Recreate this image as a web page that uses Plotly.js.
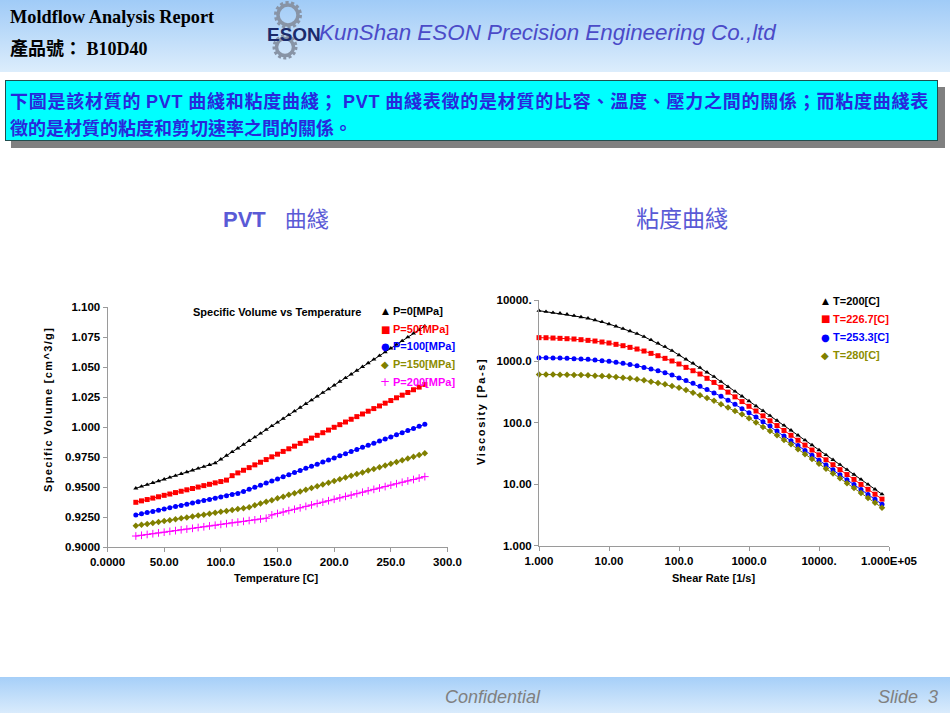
<!DOCTYPE html>
<html>
<head>
<meta charset="utf-8">
<script src="https://cdn.plot.ly/plotly-3.0.1.min.js"></script>
<style>
  html, body { margin:0; padding:0; background:#fff; }
  body { width:950px; height:713px; overflow:hidden; position:relative; }
  #bg { position:absolute; left:0; top:0; z-index:0; }
  #plot { position:absolute; left:0; top:0; width:950px; height:713px; z-index:1; }
  .annotation-text[data-unformatted^="Specific Volume ["] { letter-spacing:1.35px; }
  .annotation-text[data-unformatted^="Viscosity ["] { letter-spacing:1.6px; }
</style>
</head>
<body>
<svg id="bg" width="950" height="713" xmlns="http://www.w3.org/2000/svg">
  <defs>
    <linearGradient id="hg" x1="0" y1="0" x2="0" y2="1">
      <stop offset="0" stop-color="#a0cbf7"/>
      <stop offset="1" stop-color="#dcedfc"/>
    </linearGradient>
    <linearGradient id="fg" x1="0" y1="0" x2="0" y2="1">
      <stop offset="0" stop-color="#a6cff8"/>
      <stop offset="1" stop-color="#d9ebfc"/>
    </linearGradient>
  </defs>
  <rect x="0" y="0" width="950" height="72" fill="url(#hg)"/>
  <rect x="0" y="677" width="950" height="36" fill="url(#fg)"/>
  <text x="10" y="23" font-family="Liberation Serif" font-weight="bold" font-size="18.3" fill="#000">Moldflow Analysis Report</text>
  <text x="10" y="55" font-weight="bold" font-size="18" fill="#000"><tspan font-family="Noto Sans CJK TC">產品號：</tspan><tspan font-family="Liberation Serif"> B10D40</tspan></text>
  <!-- logo -->
  <g fill="none" stroke="#8894a6">
    <circle cx="288" cy="15" r="10" stroke-width="3.5"/>
    <circle cx="288" cy="15" r="12.5" stroke-width="3" stroke-dasharray="3.2 2.4"/>
    <circle cx="285" cy="47" r="8.5" stroke-width="3.5"/>
    <circle cx="285" cy="47" r="11" stroke-width="3" stroke-dasharray="3 2.3"/>
  </g>
  <text x="267" y="41" font-family="Liberation Sans" font-weight="bold" font-size="19" fill="#1b2b6b">ESON</text>
  <text x="319" y="40" font-family="Liberation Sans" font-style="italic" font-size="22.4" fill="#4b4bc8">KunShan ESON Precision Engineering Co.,ltd</text>
  <!-- text box -->
  <rect x="11" y="87" width="934" height="61" fill="#808080"/>
  <rect x="5.5" y="80.5" width="932" height="60" fill="#00ffff" stroke="#1f4f4f" stroke-width="1"/>
  <text x="10" y="108" font-family="Noto Sans CJK TC" font-weight="bold" font-size="18" fill="#2828dc" letter-spacing="0.75">下圖是該材質的 <tspan font-family="Liberation Sans">PVT</tspan> 曲綫和粘度曲綫； <tspan font-family="Liberation Sans">PVT</tspan> 曲綫表徵的是材質的比容、溫度、壓力之間的關係；而粘度曲綫表</text>
  <text x="10" y="135" font-family="Noto Sans CJK TC" font-weight="bold" font-size="18" fill="#2828dc">徵的是材質的粘度和剪切速率之間的關係。</text>
  <!-- headings -->
  <text x="223" y="227" font-size="22" fill="#5a5ad6"><tspan font-family="Liberation Sans" font-weight="bold">PVT</tspan><tspan font-family="Noto Sans CJK TC" dx="19">曲綫</tspan></text>
  <text x="636" y="227" font-family="Noto Sans CJK TC" font-size="23" fill="#5a5ad6">粘度曲綫</text>
  <!-- footer -->
  <text x="445" y="703" font-family="Liberation Sans" font-style="italic" font-size="18" fill="#808080">Confidential</text>
  <text x="878" y="703" font-family="Liberation Sans" font-style="italic" font-size="18" fill="#808080" xml:space="preserve">Slide  3</text>
</svg>
<div id="plot"></div>
<script>
// ---------------- PVT data ----------------
const temperature = [25,30,35,40,45,50,55,60,65,70,75,80,85,90,95,100,105,110,115,120,125,130,135,140,145,150,155,160,165,170,175,180,185,190,195,200,205,210,215,220,225,230,235,240,245,250,255,260,265,270,275,280];
const volP0 = [0.9492,0.9507,0.9522,0.9537,0.9552,0.9567,0.9582,0.9597,0.9612,0.9627,0.9642,0.9657,0.9672,0.9687,0.9702,0.9733,0.9764,0.9795,0.9825,0.9856,0.9887,0.9918,0.9949,0.9980,1.0011,1.0041,1.0072,1.0103,1.0134,1.0165,1.0196,1.0226,1.0257,1.0288,1.0319,1.0350,1.0381,1.0411,1.0442,1.0473,1.0504,1.0535,1.0566,1.0597,1.0627,1.0658,1.0689,1.0720,1.0751,1.0782,1.0812,1.0843];
const volP50 = [0.9375,0.9387,0.9398,0.9410,0.9421,0.9433,0.9444,0.9456,0.9467,0.9479,0.9490,0.9502,0.9514,0.9525,0.9537,0.9548,0.9560,0.9597,0.9620,0.9642,0.9664,0.9687,0.9709,0.9731,0.9754,0.9776,0.9799,0.9821,0.9843,0.9866,0.9888,0.9910,0.9933,0.9955,0.9977,1.0000,1.0022,1.0044,1.0067,1.0089,1.0111,1.0134,1.0156,1.0178,1.0201,1.0223,1.0246,1.0268,1.0290,1.0313,1.0335,1.0357];
const volP100 = [0.9269,0.9279,0.9289,0.9299,0.9309,0.9319,0.9329,0.9339,0.9349,0.9359,0.9369,0.9379,0.9389,0.9399,0.9409,0.9419,0.9429,0.9439,0.9449,0.9465,0.9483,0.9500,0.9518,0.9535,0.9553,0.9570,0.9588,0.9605,0.9623,0.9640,0.9658,0.9675,0.9693,0.9710,0.9728,0.9745,0.9763,0.9780,0.9798,0.9815,0.9833,0.9850,0.9868,0.9885,0.9903,0.9920,0.9938,0.9955,0.9973,0.9990,1.0008,1.0025];
const volP150 = [0.9180,0.9188,0.9195,0.9203,0.9211,0.9219,0.9226,0.9234,0.9242,0.9249,0.9257,0.9265,0.9272,0.9280,0.9288,0.9296,0.9303,0.9311,0.9319,0.9326,0.9334,0.9350,0.9364,0.9379,0.9393,0.9408,0.9422,0.9437,0.9451,0.9466,0.9480,0.9495,0.9509,0.9523,0.9538,0.9552,0.9567,0.9581,0.9596,0.9610,0.9624,0.9639,0.9653,0.9668,0.9682,0.9697,0.9711,0.9725,0.9740,0.9754,0.9769,0.9783];
const volP200 = [0.9094,0.9100,0.9107,0.9113,0.9120,0.9126,0.9133,0.9139,0.9146,0.9152,0.9158,0.9165,0.9171,0.9178,0.9184,0.9191,0.9197,0.9204,0.9210,0.9216,0.9223,0.9229,0.9236,0.9242,0.9270,0.9282,0.9294,0.9306,0.9317,0.9329,0.9341,0.9353,0.9365,0.9376,0.9388,0.9400,0.9412,0.9424,0.9435,0.9447,0.9459,0.9471,0.9483,0.9494,0.9506,0.9518,0.9530,0.9542,0.9553,0.9565,0.9577,0.9589];
const pvtLabels = ['P=0[MPa]','P=50[MPa]','P=100[MPa]','P=150[MPa]','P=200[MPa]'];
const pvtTickVals = [0,50,100,150,200,250,300];
const pvtTickText = ['0.0000','50.00','100.0','150.0','200.0','250.0','300.0'];
const volTickVals = [0.9,0.925,0.95,0.975,1.0,1.025,1.05,1.075,1.1];
const volTickText = ['0.9000','0.9250','0.9500','0.9750','1.000','1.025','1.050','1.075','1.100'];

// ---------------- Viscosity data ----------------
const shearRate = [1,1.259,1.585,1.995,2.512,3.162,3.981,5.012,6.310,7.943,10,12.59,15.85,19.95,25.12,31.62,39.81,50.12,63.10,79.43,100,125.9,158.5,199.5,251.2,316.2,398.1,501.2,631.0,794.3,1000,1259,1585,1995,2512,3162,3981,5012,6310,7943,10000,12589,15849,19953,25119,31623,39811,50119,63096,79433];
const etaT200 = [6699,6457,6223,6067,5848,5559,5284,5023,4721,4385,4064,3724,3412,3126,2831,2529,2234,1968,1738,1496,1271,1081,931,791,664,564,468,387,324,270,226,188,157,131,109,90.8,75.5,62.8,52.2,43.5,36.1,30.1,25.0,20.8,17.3,14.4,12.0,9.95,8.28,6.89];
const etaT226 = [2438,2432,2404,2377,2344,2317,2259,2203,2148,2070,1995,1897,1803,1694,1592,1476,1352,1239,1122,1016,908,800,706,624,531,455,380,316,265,222,186,156,130,108,90.4,75.2,62.7,52.1,43.4,36.1,30.1,25.0,20.8,17.3,14.4,12.0,9.95,8.28,6.89,5.73];
const etaT253 = [1151,1151,1135,1135,1122,1109,1094,1081,1054,1028,1002,966,931,895,851,800,752,706,655,600,537,488,440,394,348,307,271,234,200,170,146,124,104,88.5,73.6,61.0,50.9,42.6,35.6,29.6,24.7,20.6,17.2,14.3,11.9,9.89,8.22,6.84,5.69,4.73];
const etaT280 = [615,615,615,608,608,601,601,593,586,578,571,557,543,530,511,492,468,445,424,397,373,342,310,281,254,228,201,177,156,138,119,101,85.9,74.0,62.8,52.7,44.8,37.2,30.8,25.7,21.5,17.9,15.0,12.5,10.4,8.67,7.21,6.00,4.99,4.15];
const viscLabels = ['T=200[C]','T=226.7[C]','T=253.3[C]','T=280[C]'];
const rateTickVals = [1,10,100,1000,10000,100000];
const rateTickText = ['1.000','10.00','100.0','1000.0','10000.','1.000E+05'];
const etaTickVals = [1,10,100,1000,10000];
const etaTickText = ['1.000','10.00','100.0','1000.0','10000.'];

// ---------------- styles ----------------
const pvtStyles = [
  {color:'#000000', symbol:'triangle-up', size:4.5},
  {color:'#ff0000', symbol:'square', size:5},
  {color:'#0000ff', symbol:'circle', size:5},
  {color:'#808000', symbol:'diamond', size:5},
  {color:'#ff00ff', symbol:'cross-thin-open', size:5.5}
];
const viscStyles = pvtStyles.slice(0,4);
const textColors = ['#000000','#ff0000','#0000ff','#8c8c00','#ff00ff'];
const glyphs = ['\u25B2','\u25A0','\u25CF','\u25C6','+'];
const glyphSizes = [9,10,10,10,12];

const volSeries = [volP0, volP50, volP100, volP150, volP200];
const etaSeries = [etaT200, etaT226, etaT253, etaT280];

const traces = [];
volSeries.forEach((v,i) => {
  const s = pvtStyles[i];
  traces.push({
    type:'scatter', mode:'lines+markers', x:temperature, y:v, xaxis:'x', yaxis:'y',
    name:pvtLabels[i],
    line:{color:s.color, width:1},
    marker:{color:s.color, symbol:s.symbol, size:s.size, line:{color:s.color, width: s.symbol==='cross-thin-open'?1:0}},
    cliponaxis:false
  });
});
etaSeries.forEach((v,i) => {
  const s = viscStyles[i];
  traces.push({
    type:'scatter', mode:'lines+markers', x:shearRate, y:v, xaxis:'x2', yaxis:'y2',
    name:viscLabels[i],
    line:{color:s.color, width:1},
    marker:{color:s.color, symbol:s.symbol, size:s.size, line:{width:0}},
    cliponaxis:false
  });
});

const W = 950, H = 713;
const tickFont = {family:'Liberation Sans', size:11.5, color:'#000', weight:'bold'};
const axisCommon = {
  showline:true, linecolor:'#9a9a9a', linewidth:1, ticks:'outside', ticklen:4, tickwidth:1,
  tickcolor:'#9a9a9a', showgrid:false, zeroline:false, tickfont:tickFont, tickmode:'array', fixedrange:true
};
function A(x, y, text, extra) {
  return Object.assign({xref:'paper', yref:'paper', x:x/W, y:1-y/H, text:text, showarrow:false,
    xanchor:'center', yanchor:'middle', font:{family:'Liberation Sans', size:11, color:'#000', weight:'bold'}}, extra||{});
}
const annotations = [
  A(277, 311.5, 'Specific Volume vs Temperature'),
  A(276, 578, 'Temperature [C]'),
  A(713, 578, 'Shear Rate [1/s]'),
  A(48, 410, 'Specific Volume [cm^3/g]', {textangle:-90}),
  A(481, 411, 'Viscosity [Pa-s]', {textangle:-90})
];
const pvtLegendY = [311, 329, 346.5, 364, 382];
pvtLabels.forEach((t,i) => {
  annotations.push(A(385, pvtLegendY[i], glyphs[i], {font:{family:'DejaVu Sans', size:glyphSizes[i], color:pvtStyles[i].color}}));
  annotations.push(A(391, pvtLegendY[i], t, {xanchor:'left', font:{family:'Liberation Sans', size:11, color:textColors[i], weight:'bold'}}));
});
const viscLegendY = [301, 319, 337, 355];
viscLabels.forEach((t,i) => {
  annotations.push(A(825, viscLegendY[i], glyphs[i], {font:{family:'DejaVu Sans', size:glyphSizes[i], color:viscStyles[i].color}}));
  annotations.push(A(831, viscLegendY[i], t, {xanchor:'left', font:{family:'Liberation Sans', size:11, color:textColors[i], weight:'bold'}}));
});

const layout = {
  width:W, height:H, margin:{l:0,r:0,t:0,b:0},
  paper_bgcolor:'rgba(0,0,0,0)', plot_bgcolor:'rgba(0,0,0,0)',
  showlegend:false,
  xaxis: Object.assign({}, axisCommon, {domain:[107.5/W, 447.5/W], range:[0,300], tickvals:pvtTickVals, ticktext:pvtTickText, anchor:'y'}),
  yaxis: Object.assign({}, axisCommon, {domain:[1-547.3/H, 1-307.3/H], range:[0.9,1.1], tickvals:volTickVals, ticktext:volTickText, anchor:'x'}),
  xaxis2: Object.assign({}, axisCommon, {type:'log', domain:[539/W, 889/W], range:[0,5], tickvals:rateTickVals, ticktext:rateTickText, anchor:'y2'}),
  yaxis2: Object.assign({}, axisCommon, {type:'log', domain:[1-545.7/H, 1-300/H], range:[0,4], tickvals:etaTickVals, ticktext:etaTickText, anchor:'x2'}),
  annotations: annotations
};
Plotly.newPlot('plot', traces, layout, {staticPlot:true, displayModeBar:false});
</script>
</body>
</html>
